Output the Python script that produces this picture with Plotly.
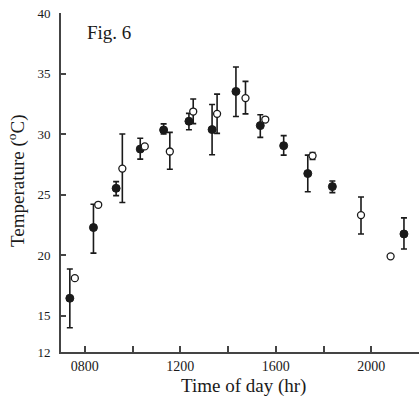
import plotly.graph_objects as go

# Filled-circle series (hours, °C, upper error, lower error)
filled_hr = [7.37, 8.36, 9.31, 10.32, 11.30, 12.36, 13.33, 14.33, 15.35, 16.33, 17.34, 18.37, 21.37]
filled_temp = [16.44, 22.28, 25.52, 28.76, 30.34, 31.06, 30.37, 33.52, 30.70, 29.04, 26.74, 25.66, 21.75]
filled_err_up = [2.41, 1.92, 0.55, 0.90, 0.50, 0.65, 2.07, 2.02, 0.89, 0.83, 1.52, 0.47, 1.33]
filled_err_dn = [2.44, 2.11, 0.60, 0.83, 0.34, 0.70, 2.08, 2.07, 0.97, 0.78, 1.50, 0.50, 1.24]

# Open-circle series (None = no error bar)
open_hr = [7.58, 8.56, 9.57, 10.51, 11.56, 12.54, 13.54, 14.73, 15.56, 17.54, 19.57, 20.81]
open_temp = [18.10, 24.16, 27.15, 28.98, 28.56, 31.86, 31.67, 32.97, 31.20, 28.20, 23.31, 19.90]
open_err_up = [None, None, 2.85, None, 1.58, 1.04, 1.63, 1.38, None, 0.28, 1.49, None]
open_err_dn = [None, None, 2.80, None, 1.46, 1.00, 1.61, 1.30, None, 0.30, 1.56, None]

x_tickvals = [8, 12, 16, 20]
x_ticktext = ["0800", "1200", "1600", "2000"]
x_minor_tickvals = [10, 14, 18]
y_tickvals = [12, 15, 20, 25, 30, 35, 40]
y_ticktext = ["12", "15", "20", "25", "30", "35", "40"]

INK = "#1a1a1a"
AXIS = "#444444"
SERIF = "Liberation Serif, Times New Roman, serif"

fig = go.Figure()
fig.add_trace(go.Scatter(
    x=filled_hr, y=filled_temp, mode="markers",
    marker=dict(symbol="circle", size=8, color=INK, line=dict(color=INK, width=1)),
    error_y=dict(type="data", symmetric=False, array=filled_err_up, arrayminus=filled_err_dn,
                 color=INK, thickness=1.6, width=3),
    showlegend=False, cliponaxis=False,
))
fig.add_trace(go.Scatter(
    x=open_hr, y=open_temp, mode="markers",
    marker=dict(symbol="circle", size=7, color="white", line=dict(color=INK, width=1.3)),
    error_y=dict(type="data", symmetric=False, array=open_err_up, arrayminus=open_err_dn,
                 color=INK, thickness=1.6, width=3),
    showlegend=False, cliponaxis=False,
))

fig.update_layout(
    width=419, height=398,
    margin=dict(l=61, r=0, t=13, b=46),
    paper_bgcolor="white", plot_bgcolor="white",
    font=dict(family=SERIF, color=INK),
    xaxis=dict(range=[7, 22], tickvals=x_tickvals, ticktext=x_ticktext,
               ticks="inside", ticklen=6, tickwidth=1.5, tickcolor=AXIS,
               minor=dict(tickvals=x_minor_tickvals, ticks="inside", ticklen=6,
                          tickwidth=1.5, tickcolor=AXIS, showgrid=False),
               showline=True, linecolor=AXIS, linewidth=1.8, showgrid=False, zeroline=False,
               tickfont=dict(family=SERIF, size=14, color=INK)),
    yaxis=dict(range=[12, 40], tickvals=y_tickvals, ticktext=y_ticktext,
               ticks="inside", ticklen=5, tickwidth=1.5, tickcolor=AXIS,
               showline=True, linecolor=AXIS, linewidth=1.8, showgrid=False, zeroline=False,
               ticklabelstandoff=6,
               tickfont=dict(family=SERIF, size=13, color=INK)),
    annotations=[
        dict(text="Fig. 6", x=109, y=33, showarrow=False,
             font=dict(family=SERIF, size=19, color=INK)),
        dict(text="Time of day (hr)", x=243, y=386, showarrow=False,
             font=dict(family=SERIF, size=19, color=INK)),
        dict(text="Temperature (<sup>o</sup>C)", x=16, y=181, showarrow=False, textangle=-90,
             font=dict(family=SERIF, size=19, color=INK)),
    ],
)

# Convert pixel-placed annotations to paper coordinates
W, H, L, T, B = 419, 398, 61, 13, 46
pw, ph = W - L, H - T - B
new_ann = []
for a in fig.layout.annotations:
    px, py = a.x, a.y
    a.xref = "paper"; a.yref = "paper"
    a.x = (px - L) / pw
    a.y = 1 - (py - T) / ph
    a.xanchor = "center"; a.yanchor = "middle"
    new_ann.append(a)
fig.layout.annotations = new_ann

fig.write_html("out.html")
